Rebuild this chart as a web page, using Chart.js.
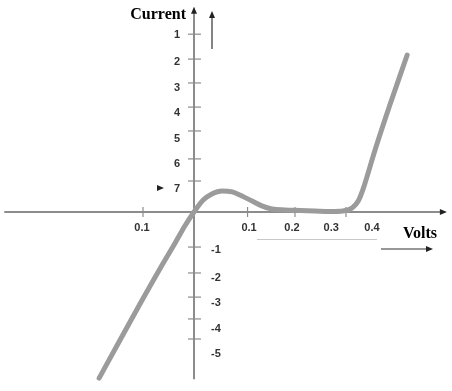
<!DOCTYPE html>
<html>
<head>
<meta charset="utf-8">
<script src="https://cdn.jsdelivr.net/npm/chart.js@4.4.0/dist/chart.umd.min.js"></script>
<style>
  html, body { margin: 0; padding: 0; background: #fff; }
  #wrap { width: 452px; height: 391px; }
</style>
</head>
<body>
<div id="wrap"><canvas id="curve" width="452" height="391"></canvas></div>
<script>
// tunnel diode I-V curve
const VOLTS   = [-0.186, -0.145, -0.106, -0.067, -0.037, -0.018, 0, 0.018, 0.035, 0.055, 0.075, 0.094, 0.114, 0.133, 0.153, 0.178, 0.208, 0.237, 0.267, 0.292, 0.310, 0.322, 0.331, 0.355, 0.384, 0.418];
const CURRENT = [-6.54, -5.04, -3.62, -2.24, -1.22, -0.55, 0, 0.47, 0.71, 0.83, 0.79, 0.63, 0.43, 0.24, 0.12, 0.08, 0.06, 0.04, 0.02, 0.04, 0.16, 0.43, 0.87, 2.44, 4.21, 6.18];

// axis ticks (the source picture is not evenly spaced)
const X_TICKS = [-0.1, 0.105, 0.198, 0.298];
const X_LABELS = ['0.1', '0.1', '0.2', '0.3', '0.4'];
const X_LABEL_AT = [-0.102, 0.108, 0.192, 0.269, 0.349];

const Y_TICKS = [7.0, 6.02, 5.08, 4.13, 3.19, 2.09, 1.22, -1.38, -2.4, -3.35, -4.21, -5.0];
const Y_LABELS_POS = ['1', '2', '3', '4', '5', '6', '7'];
const Y_LABELS_POS_AT = [6.97, 5.9, 4.88, 3.9, 2.87, 1.89, 0.91];
const Y_LABELS_NEG = ['-1', '-2', '-3', '-4', '-5'];
const Y_LABELS_NEG_AT = [-1.5, -2.6, -3.58, -4.6, -5.6];

const X_RANGE = [-0.3804, 0.5059];
const Y_RANGE = [-7.047, 8.346];
const X_AXIS_EXTENT = [-0.372, 0.49];
const Y_AXIS_EXTENT = [-6.58, 8.0];

function arrowHead(ctx, x, y, dir) {
  ctx.beginPath();
  if (dir === 'up') {
    ctx.moveTo(x, y); ctx.lineTo(x - 3, y + 7); ctx.lineTo(x + 3, y + 7);
  } else {
    ctx.moveTo(x, y); ctx.lineTo(x - 7, y - 3); ctx.lineTo(x - 7, y + 3);
  }
  ctx.closePath();
  ctx.fill();
}

function seg(ctx, x1, y1, x2, y2) {
  ctx.beginPath();
  ctx.moveTo(x1, y1);
  ctx.lineTo(x2, y2);
  ctx.stroke();
}

const axesPlugin = {
  id: 'crossAxes',
  beforeDatasetsDraw(chart) {
    const { ctx, scales: { x, y } } = chart;
    const x0 = x.getPixelForValue(0);
    const y0 = y.getPixelForValue(0);
    ctx.save();

    ctx.strokeStyle = '#8c8c8c';
    ctx.lineWidth = 2;
    seg(ctx, x.getPixelForValue(X_AXIS_EXTENT[0]), y0, x.getPixelForValue(X_AXIS_EXTENT[1]), y0);
    seg(ctx, x0, y.getPixelForValue(Y_AXIS_EXTENT[1]), x0, y.getPixelForValue(Y_AXIS_EXTENT[0]));

    ctx.lineWidth = 1.2;
    X_TICKS.forEach(v => {
      const px = x.getPixelForValue(v);
      seg(ctx, px, y0 - 5, px, y0 + 5);
    });
    Y_TICKS.forEach(v => {
      const py = y.getPixelForValue(v);
      seg(ctx, x0 - 6, py, x0 + 7, py);
    });

    ctx.fillStyle = '#222';
    arrowHead(ctx, x0, y.getPixelForValue(Y_AXIS_EXTENT[1]) - 2, 'up');
    arrowHead(ctx, x.getPixelForValue(X_AXIS_EXTENT[1]) + 3, y0, 'right');

    // faint rule under the volt labels
    ctx.strokeStyle = '#c8c8c8';
    ctx.lineWidth = 1;
    seg(ctx, 257, 239.5, 377, 239.5);
    ctx.restore();
  },
  afterDatasetsDraw(chart) {
    const { ctx, scales: { x, y } } = chart;
    const x0 = x.getPixelForValue(0);
    const y0 = y.getPixelForValue(0);
    ctx.save();

    ctx.fillStyle = '#333';
    ctx.font = 'bold 11px "Liberation Sans", sans-serif';
    ctx.textBaseline = 'middle';
    ctx.textAlign = 'center';
    X_LABELS.forEach((t, i) => ctx.fillText(t, x.getPixelForValue(X_LABEL_AT[i]), y0 + 16));

    ctx.textAlign = 'right';
    Y_LABELS_POS.forEach((t, i) => ctx.fillText(t, x0 - 14, y.getPixelForValue(Y_LABELS_POS_AT[i])));
    ctx.textAlign = 'left';
    Y_LABELS_NEG.forEach((t, i) => ctx.fillText(t, x0 + 17, y.getPixelForValue(Y_LABELS_NEG_AT[i])));

    // titles
    ctx.fillStyle = '#000';
    ctx.font = 'bold 16px "Liberation Serif", serif';
    ctx.textBaseline = 'alphabetic';
    ctx.textAlign = 'right';
    ctx.fillText('Current', 186, 19);
    ctx.textAlign = 'left';
    ctx.fillText('Volts', 403, 238);

    // loose arrows beside the titles
    ctx.strokeStyle = '#333';
    ctx.fillStyle = '#222';
    ctx.lineWidth = 1.2;
    seg(ctx, 212, 49, 212, 16);
    arrowHead(ctx, 212, 11, 'up');
    seg(ctx, 381, 249, 428, 249);
    arrowHead(ctx, 433, 249, 'right');
    seg(ctx, 157, 188, 161, 188);
    arrowHead(ctx, 164, 188, 'right');
    ctx.restore();
  }
};

new Chart(document.getElementById('curve'), {
  type: 'scatter',
  data: {
    datasets: [{
      data: VOLTS.map((v, i) => ({ x: v, y: CURRENT[i] })),
      showLine: true,
      pointRadius: 0,
      borderColor: '#9b9b9b',
      borderWidth: 5,
      borderCapStyle: 'round',
      cubicInterpolationMode: 'monotone'
    }]
  },
  options: {
    responsive: false,
    animation: false,
    layout: { padding: 0 },
    plugins: { legend: { display: false }, tooltip: { enabled: false } },
    scales: {
      x: { type: 'linear', min: X_RANGE[0], max: X_RANGE[1], display: false },
      y: { type: 'linear', min: Y_RANGE[0], max: Y_RANGE[1], display: false }
    }
  },
  plugins: [axesPlugin]
});
</script>
</body>
</html>
